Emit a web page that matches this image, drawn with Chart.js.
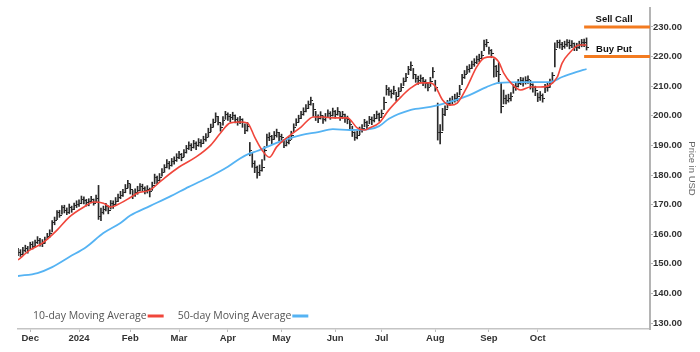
<!DOCTYPE html>
<html>
<head>
<meta charset="utf-8">
<script src="https://cdn.jsdelivr.net/npm/chart.js@4.4.1/dist/chart.umd.min.js"></script>
<style>
  html, body { margin: 0; padding: 0; background: #fff; }
  #chart { display: block; }
</style>
</head>
<body>
<canvas id="chart" width="700" height="352"></canvas>
<script>
// Trading-day index 0 = Nov 24 2023, last bar = Oct 29 2024
const monthStarts = [5, 25, 46, 66, 86, 108, 130, 149, 171, 193, 213];
const monthLabels = ['Dec', '2024', 'Feb', 'Mar', 'Apr', 'May', 'Jun', 'Jul', 'Aug', 'Sep', 'Oct'];
const priceTicks = [130, 140, 150, 160, 170, 180, 190, 200, 210, 220, 230];
const xMax = 259;

// Daily bars, one value per trading day (Nov .. Oct)
const closes = [
  154.0, 153.2, 154.6, 155.1, 154.5,
  156.4, 155.8, 157.2, 158.0, 156.9, 157.0, 158.3, 159.1, 160.4, 163.8, 164.5, 167.2, 166.4, 168.9, 168.1, 167.5, 169.0, 168.2, 169.6, 170.1,
  170.5, 171.8, 171.5, 170.6, 170.9, 171.7, 170.5, 172.0, 166.0, 167.2, 168.5, 169.2, 168.0, 170.3, 169.9, 171.2, 172.5, 173.2, 174.0, 175.5, 177.3,
  175.0, 173.2, 174.1, 174.9, 176.0, 175.6, 174.8, 175.2, 174.3, 176.5, 179.3, 178.2, 179.3, 181.0, 182.5, 184.0, 183.2, 184.5, 185.0, 186.0,
  186.8, 185.9, 187.5, 188.8, 190.0, 189.2, 190.5, 189.8, 191.0, 190.8, 191.9, 192.8, 194.5, 196.0, 197.6, 199.6, 197.8, 196.0, 198.5, 200.3,
  199.8, 199.3, 200.0, 198.8, 198.0, 198.6, 197.6, 195.2, 196.5, 188.4, 184.0, 182.5, 180.7, 181.5, 182.7, 188.4, 192.5, 193.0, 192.0, 193.5, 194.2, 193.0,
  192.5, 190.0, 191.0, 191.8, 193.5, 196.0, 197.9, 199.0, 200.3, 201.5, 202.6, 203.8, 205.3, 202.0, 199.6, 199.0, 200.2, 198.6, 199.5, 200.8, 200.0, 201.3,
  200.5, 201.5, 199.6, 200.3, 199.2, 198.6, 197.0, 194.2, 192.8, 193.5, 195.0, 195.8, 197.6, 196.8, 198.6, 198.3, 199.2, 200.3, 199.5,
  200.8, 204.5, 209.0, 208.2, 207.4, 208.7, 206.4, 208.2, 209.7, 211.5, 213.0, 215.5, 217.0, 213.8, 212.6, 212.0, 212.5, 211.6, 210.8, 209.7, 211.5, 214.8,
  209.5, 194.5, 194.2, 200.5, 202.0, 204.0, 204.8, 205.3, 206.0, 206.4, 209.0, 212.8, 214.0, 215.5, 216.0, 217.2, 218.0, 218.9, 219.5, 220.5, 224.0, 224.8,
  222.0, 221.0, 216.5, 215.0, 214.0, 203.0, 206.0, 205.3, 206.0, 206.4, 209.4, 210.0, 211.0, 211.8, 211.4, 212.0, 212.2, 210.4, 209.4, 208.5,
  206.2, 206.8, 206.0, 209.4, 209.7, 211.0, 213.5, 222.5, 224.6, 224.0, 223.5, 224.2, 224.6, 223.8, 224.5, 223.2, 223.2, 224.0, 224.6, 224.6, 222.9
];
const highs = [
  155.2, 154.8, 155.6, 156.3, 155.9,
  157.3, 157.5, 158.0, 159.2, 158.6, 158.2, 159.0, 160.3, 161.5, 164.6, 165.8, 168.0, 168.1, 169.7, 169.8, 168.9, 170.2, 169.5, 170.5, 171.3,
  171.6, 172.9, 172.6, 171.8, 172.0, 172.8, 171.9, 173.2, 176.5, 168.8, 169.5, 170.4, 169.6, 171.4, 171.3, 172.4, 173.6, 174.5, 175.2, 176.8, 178.2,
  177.0, 174.8, 175.3, 176.2, 177.1, 176.9, 176.0, 176.4, 175.6, 177.6, 180.3, 179.6, 180.5, 182.2, 183.5, 185.2, 184.6, 185.6, 186.1, 187.2,
  188.0, 187.3, 188.6, 190.0, 191.2, 190.6, 191.7, 191.2, 192.3, 192.0, 193.1, 194.0, 195.8, 197.2, 198.9, 201.0, 199.8, 197.5, 199.7, 201.5,
  201.0, 200.5, 201.2, 200.3, 199.4, 199.8, 199.0, 197.3, 197.8, 191.0, 187.5, 184.8, 183.0, 183.4, 185.2, 189.6, 193.8, 194.3, 193.4, 194.7, 195.5, 194.4,
  193.8, 192.0, 192.4, 193.0, 194.8, 197.3, 199.0, 200.2, 201.5, 202.7, 203.8, 205.0, 206.3, 204.2, 201.5, 200.3, 201.4, 200.0, 200.8, 202.0, 201.4, 202.6,
  201.8, 202.8, 201.3, 201.5, 200.6, 199.9, 198.5, 196.5, 194.6, 194.9, 196.2, 197.0, 198.8, 198.2, 199.8, 199.6, 200.5, 201.6, 200.9,
  202.0, 206.3, 210.3, 209.5, 208.8, 210.0, 208.0, 209.5, 210.9, 212.8, 214.3, 216.7, 218.2, 216.0, 214.0, 213.4, 213.8, 213.0, 212.2, 211.0, 213.0, 216.3,
  212.0, 204.3, 197.0, 202.5, 203.4, 205.2, 206.0, 206.6, 207.3, 207.8, 210.3, 214.0, 215.3, 216.8, 217.3, 218.5, 219.3, 220.2, 220.8, 221.8, 225.6, 225.8,
  223.2, 222.4, 219.2, 217.0, 218.0, 211.0, 208.7, 207.0, 207.3, 207.8, 210.6, 211.3, 212.3, 213.0, 212.8, 213.2, 213.5, 212.0, 210.8, 210.0,
  207.7, 208.2, 207.4, 210.6, 211.0, 212.4, 214.6, 224.6, 225.5, 225.6, 224.8, 225.2, 225.7, 225.6, 225.4, 224.6, 224.5, 225.2, 225.8, 225.9, 226.3
];
const lows = [
  152.8, 152.5, 153.0, 154.0, 153.6,
  154.9, 155.0, 155.6, 156.8, 156.0, 155.8, 156.9, 158.2, 159.0, 160.8, 163.2, 164.9, 165.7, 166.8, 167.2, 166.6, 167.0, 167.4, 168.3, 169.0,
  169.4, 170.3, 170.2, 169.5, 169.6, 170.6, 169.8, 170.8, 165.0, 164.6, 166.8, 167.9, 166.9, 168.5, 168.7, 169.8, 171.0, 172.0, 172.8, 174.0, 175.6,
  173.6, 172.0, 172.8, 173.5, 174.6, 174.5, 173.6, 173.9, 172.6, 174.8, 177.0, 177.0, 177.9, 179.6, 180.9, 182.4, 182.0, 183.0, 183.7, 184.6,
  185.5, 184.8, 186.1, 187.4, 188.6, 188.2, 189.1, 188.6, 189.7, 189.5, 190.6, 191.4, 192.8, 194.6, 196.1, 198.0, 196.9, 194.8, 196.8, 198.8,
  198.4, 198.0, 198.7, 197.6, 196.8, 197.3, 196.1, 194.0, 194.8, 186.5, 182.6, 180.8, 178.9, 179.8, 181.3, 185.0, 189.9, 191.6, 190.6, 192.0, 192.8, 191.5,
  191.0, 189.2, 189.8, 190.5, 192.0, 194.5, 196.6, 197.8, 199.0, 200.2, 201.3, 202.4, 203.6, 199.8, 198.4, 197.7, 198.9, 197.4, 198.2, 199.4, 198.8, 199.9,
  199.2, 200.2, 198.4, 199.0, 197.8, 197.3, 195.6, 193.0, 191.7, 192.2, 193.6, 194.5, 196.3, 195.5, 197.3, 197.0, 197.9, 199.0, 198.2,
  199.6, 202.1, 207.0, 206.9, 206.0, 207.2, 205.0, 206.6, 208.3, 210.2, 211.6, 213.9, 215.2, 212.5, 211.3, 210.6, 211.1, 210.2, 209.4, 208.4, 209.9, 212.8,
  208.3, 191.8, 190.5, 195.0, 200.0, 202.6, 203.5, 204.0, 204.6, 205.0, 207.0, 210.5, 212.6, 214.2, 214.7, 215.9, 216.7, 217.6, 218.2, 219.2, 222.0, 223.3,
  220.8, 219.6, 213.0, 213.2, 211.0, 201.0, 204.0, 204.0, 204.6, 205.0, 207.6, 208.6, 209.7, 210.5, 210.0, 210.7, 210.9, 209.0, 208.0, 206.8,
  204.8, 205.2, 204.6, 207.8, 208.3, 209.6, 211.0, 216.5, 223.0, 222.8, 222.3, 222.8, 223.4, 222.6, 223.0, 222.0, 222.0, 222.7, 223.3, 223.3, 222.2
];

// Moving averages, read at selected trading days
const ma10Days = [0, 5, 10, 16, 21, 27, 31, 35, 38, 42, 46, 49, 54, 59, 66, 73, 79, 83, 87, 91,
  94, 97, 100, 103, 106, 110, 116, 121, 125, 129, 135, 139, 142, 144, 148, 152, 157, 161, 165, 169,
  171, 174, 177, 180, 184, 188, 191, 194, 197, 199, 202, 206, 210, 214, 218, 221, 223, 226, 230, 233];
const ma10 = [151.3, 154.7, 157.0, 161.4, 165.8, 169.2, 170.9, 170.5, 169.2, 170.5, 172.4, 173.9, 174.9, 178.3, 182.7, 186.1, 190.1, 194.2, 197.6, 197.9,
  197.6, 192.8, 188.4, 186.0, 189.5, 192.5, 196.2, 199.6, 199.6, 199.3, 199.3, 195.9, 195.2, 195.9, 197.6, 202.0, 206.4, 209.4, 211.1, 211.1,
  210.0, 205.3, 203.6, 204.3, 209.7, 216.5, 219.5, 219.9, 218.2, 214.5, 211.1, 208.7, 209.7, 209.7, 210.4, 213.1, 217.8, 221.2, 223.9, 223.9];
const ma50Days = [0, 8, 14, 21, 28, 35, 42, 46, 54, 62, 70, 79, 86, 91, 95, 98, 102, 109, 116, 123,
  129, 136, 144, 148, 152, 161, 169, 177, 185, 192, 197, 207, 218, 223, 229, 233];
const ma50 = [145.9, 146.9, 148.9, 152.3, 155.7, 160.4, 163.8, 166.3, 169.5, 172.6, 176.0, 179.6, 182.8, 185.6, 187.3, 188.1, 189.5, 191.8, 193.5, 194.5,
  195.5, 195.2, 195.5, 196.5, 199.0, 202.0, 203.0, 204.7, 207.0, 209.7, 211.1, 211.4, 211.4, 213.1, 214.8, 215.8];

// Option levels
const levelNames = ['Sell Call', 'Buy Put'];
const levelPrices = [230, 220];
const levelFrom = 232;

const RED = '#f0463b';
const BLUE = '#55b3f3';
const ORANGE = '#f37b20';
const tickFont = { family: 'Liberation Sans', weight: 'bold', size: 9.5 };

// right-hand close tick drawn as point image
function makeCloseTick() {
  const c = document.createElement('canvas');
  c.width = 5;
  c.height = 1;
  const g = c.getContext('2d');
  g.fillStyle = '#222';
  g.fillRect(3, 0, 2, 1);
  return c;
}

const maLegend = {
  id: 'maLegend',
  afterDatasetsDraw(chart) {
    const { ctx, chartArea } = chart;
    ctx.save();
    ctx.font = '10.5px "Open Sans"';
    ctx.textBaseline = 'middle';
    let x = chartArea.left + 15;
    const y = chartArea.bottom - 13;
    chart.data.datasets.filter(d => d.inLegend).forEach(d => {
      ctx.fillStyle = '#555';
      ctx.fillText(d.label, x, y);
      x += ctx.measureText(d.label).width + 1;
      ctx.strokeStyle = d.borderColor;
      ctx.lineWidth = 3;
      ctx.beginPath();
      ctx.moveTo(x, y);
      ctx.lineTo(x + 16, y);
      ctx.stroke();
      x += 30;
    });
    ctx.restore();
  }
};

const levelText = {
  id: 'levelText',
  afterDatasetsDraw(chart) {
    const { ctx, scales } = chart;
    const cx = (scales.x.getPixelForValue(levelFrom) + scales.x.getPixelForValue(xMax)) / 2 - 3;
    ctx.save();
    ctx.font = 'bold 9.5px "Liberation Sans"';
    ctx.fillStyle = '#111';
    ctx.textAlign = 'center';
    ctx.textBaseline = 'alphabetic';
    levelPrices.forEach((p, k) => {
      ctx.fillText(levelNames[k], cx, scales.y.getPixelForValue(p) - 4.5);
    });
    ctx.restore();
  }
};

const levelSets = levelPrices.map((p, k) => ({
  type: 'line',
  label: levelNames[k],
  data: [{ x: levelFrom, y: p }, { x: xMax, y: p }],
  borderColor: ORANGE,
  borderWidth: 3,
  pointRadius: 0,
  order: 0
}));

new Chart(document.getElementById('chart'), {
  type: 'bar',
  data: {
    datasets: [
      {
        type: 'line',
        label: '10-day Moving Average',
        inLegend: true,
        data: ma10Days.map((d, k) => ({ x: d, y: ma10[k] })),
        borderColor: RED,
        borderWidth: 1.6,
        pointRadius: 0,
        cubicInterpolationMode: 'monotone',
        order: 1
      },
      {
        type: 'line',
        label: '50-day Moving Average',
        inLegend: true,
        data: ma50Days.map((d, k) => ({ x: d, y: ma50[k] })),
        borderColor: BLUE,
        borderWidth: 1.8,
        pointRadius: 0,
        cubicInterpolationMode: 'monotone',
        order: 2
      },
      ...levelSets,
      {
        type: 'scatter',
        label: 'Close',
        data: closes.map((c, i) => ({ x: i, y: c })),
        pointStyle: makeCloseTick(),
        pointRadius: 1,
        order: 3
      },
      {
        type: 'bar',
        label: 'Range',
        data: closes.map((c, i) => ({ x: i, y: [lows[i], highs[i]] })),
        backgroundColor: '#2a2a2a',
        barThickness: 1,
        grouped: false,
        order: 4
      }
    ]
  },
  options: {
    responsive: false,
    animation: false,
    events: [],
    layout: { padding: { left: 18, top: 8, right: 0, bottom: 0 } },
    plugins: {
      legend: { display: false },
      tooltip: { enabled: false }
    },
    scales: {
      x: {
        type: 'linear',
        min: 0,
        max: xMax,
        offset: false,
        afterBuildTicks: s => { s.ticks = monthStarts.map(v => ({ value: v })); },
        afterFit: s => { s.height = 23; },
        ticks: {
          autoSkip: false,
          maxRotation: 0,
          padding: 1,
          color: '#333',
          font: tickFont,
          callback: (v, i) => monthLabels[i]
        },
        grid: { drawOnChartArea: false, drawTicks: true, tickLength: 3, color: '#bbb', offset: false },
        border: { display: true, color: '#c4c4c4', width: 1.5 }
      },
      y: {
        position: 'right',
        min: 128,
        max: 236.4,
        afterBuildTicks: s => { s.ticks = priceTicks.map(v => ({ value: v })); },
        afterFit: s => { s.width = 50; },
        ticks: {
          padding: 0,
          color: '#333',
          font: tickFont,
          callback: v => v.toFixed(2)
        },
        grid: { drawOnChartArea: false, drawTicks: true, tickLength: 3, color: '#b4b4b4' },
        border: { display: true, color: '#b4b4b4', width: 2 },
        title: {
          display: true,
          text: 'Price in USD',
          color: '#666',
          padding: 3,
          font: { family: 'Liberation Sans', size: 9.5 }
        }
      }
    }
  },
  plugins: [maLegend, levelText]
});
</script>
</body>
</html>
